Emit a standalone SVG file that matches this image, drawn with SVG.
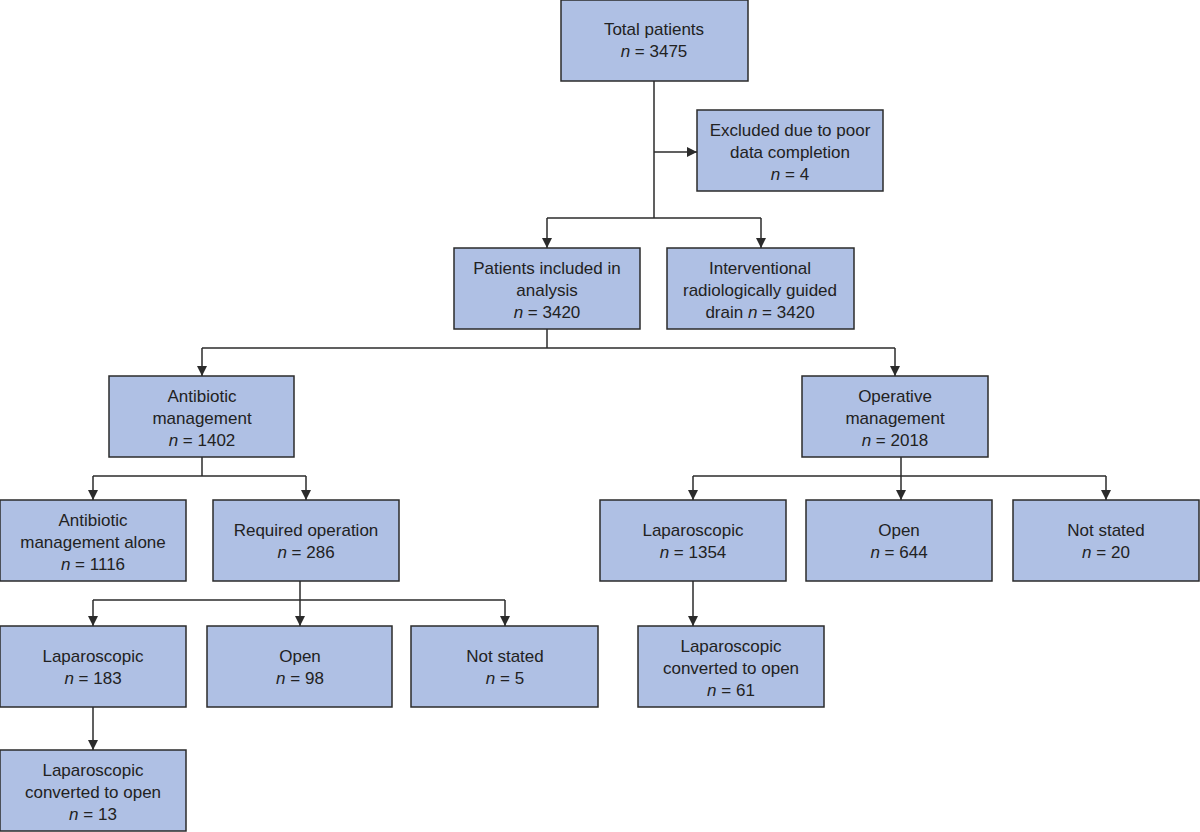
<svg xmlns="http://www.w3.org/2000/svg" width="1200" height="832" viewBox="0 0 1200 832">
<style>
rect{fill:#afc0e4;stroke:#2b2b2b;stroke-width:1.5}
text{font-family:"Liberation Sans",Arial,sans-serif;font-size:17px;fill:#222;text-anchor:middle}
.c path{fill:none;stroke:#2b2b2b;stroke-width:1.5}
</style>
<defs><marker id="a" viewBox="0 0 10 10" refX="10" refY="5" markerWidth="10" markerHeight="10" markerUnits="userSpaceOnUse" orient="auto"><path d="M0,0L10,5L0,10z" fill="#2b2b2b"/></marker></defs>
<rect width="1200" height="832" style="fill:#fff;stroke:none"/>
<g class="c">
<path d="M654,81V218"/>
<path d="M654,152H697" marker-end="url(#a)"/>
<path d="M547,218H761"/><path d="M547,218V248" marker-end="url(#a)"/><path d="M761,218V248" marker-end="url(#a)"/>
<path d="M547,329V348"/><path d="M202,348H895"/><path d="M202,348V376" marker-end="url(#a)"/><path d="M895,348V376" marker-end="url(#a)"/>
<path d="M202,457V476"/><path d="M93,476H306"/><path d="M93,476V500" marker-end="url(#a)"/><path d="M306,476V500" marker-end="url(#a)"/>
<path d="M901,457V476"/><path d="M693,476H1106"/><path d="M693,476V500" marker-end="url(#a)"/><path d="M901,476V500" marker-end="url(#a)"/><path d="M1106,476V500" marker-end="url(#a)"/>
<path d="M300,581V600"/><path d="M93,600H505"/><path d="M93,600V626" marker-end="url(#a)"/><path d="M300,600V626" marker-end="url(#a)"/><path d="M505,600V626" marker-end="url(#a)"/>
<path d="M93,707V750" marker-end="url(#a)"/>
<path d="M693,581V626" marker-end="url(#a)"/>
</g>
<g id="total"><rect x="561" y="0" width="187" height="81"/><text x="654" y="35">Total patients</text><text x="654" y="57"><tspan font-style="italic">n</tspan> = 3475</text></g>
<g id="excluded"><rect x="697" y="110" width="186" height="81"/><text x="790" y="136">Excluded due to poor</text><text x="790" y="158">data completion</text><text x="790" y="180"><tspan font-style="italic">n</tspan> = 4</text></g>
<g id="included"><rect x="454" y="248" width="186" height="81"/><text x="547" y="274">Patients included in</text><text x="547" y="296">analysis</text><text x="547" y="318"><tspan font-style="italic">n</tspan> = 3420</text></g>
<g id="drain"><rect x="667" y="248" width="187" height="81"/><text x="760" y="274">Interventional</text><text x="760" y="296">radiologically guided</text><text x="760" y="318">drain <tspan font-style="italic">n</tspan> = 3420</text></g>
<g id="antibiotic"><rect x="109" y="376" width="185" height="81"/><text x="202" y="402">Antibiotic</text><text x="202" y="424">management</text><text x="202" y="446"><tspan font-style="italic">n</tspan> = 1402</text></g>
<g id="operative"><rect x="802" y="376" width="186" height="81"/><text x="895" y="402">Operative</text><text x="895" y="424">management</text><text x="895" y="446"><tspan font-style="italic">n</tspan> = 2018</text></g>
<g id="abxalone"><rect x="0" y="500" width="186" height="81"/><text x="93" y="526">Antibiotic</text><text x="93" y="548">management alone</text><text x="93" y="570"><tspan font-style="italic">n</tspan> = 1116</text></g>
<g id="reqop"><rect x="213" y="500" width="186" height="81"/><text x="306" y="536">Required operation</text><text x="306" y="558"><tspan font-style="italic">n</tspan> = 286</text></g>
<g id="lapR"><rect x="600" y="500" width="186" height="81"/><text x="693" y="536">Laparoscopic</text><text x="693" y="558"><tspan font-style="italic">n</tspan> = 1354</text></g>
<g id="openR"><rect x="806" y="500" width="186" height="81"/><text x="899" y="536">Open</text><text x="899" y="558"><tspan font-style="italic">n</tspan> = 644</text></g>
<g id="nsR"><rect x="1013" y="500" width="186" height="81"/><text x="1106" y="536">Not stated</text><text x="1106" y="558"><tspan font-style="italic">n</tspan> = 20</text></g>
<g id="lapL"><rect x="0" y="626" width="186" height="81"/><text x="93" y="662">Laparoscopic</text><text x="93" y="684"><tspan font-style="italic">n</tspan> = 183</text></g>
<g id="openL"><rect x="207" y="626" width="185" height="81"/><text x="300" y="662">Open</text><text x="300" y="684"><tspan font-style="italic">n</tspan> = 98</text></g>
<g id="nsL"><rect x="411" y="626" width="187" height="81"/><text x="505" y="662">Not stated</text><text x="505" y="684"><tspan font-style="italic">n</tspan> = 5</text></g>
<g id="convR"><rect x="638" y="626" width="186" height="81"/><text x="731" y="652">Laparoscopic</text><text x="731" y="674">converted to open</text><text x="731" y="696"><tspan font-style="italic">n</tspan> = 61</text></g>
<g id="convL"><rect x="0" y="750" width="186" height="81"/><text x="93" y="776">Laparoscopic</text><text x="93" y="798">converted to open</text><text x="93" y="820"><tspan font-style="italic">n</tspan> = 13</text></g>
</svg>
